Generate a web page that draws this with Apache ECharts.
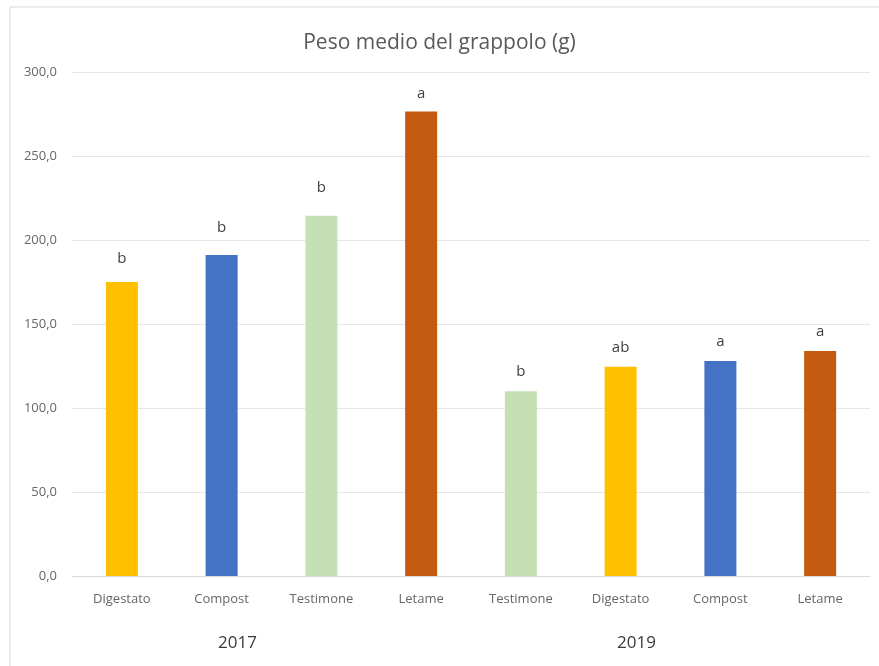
<!DOCTYPE html>
<html>
<head>
<meta charset="utf-8">
<script src="https://cdn.jsdelivr.net/npm/echarts@6/dist/echarts.min.js"></script>
<style>
  html, body { margin: 0; padding: 0; background: #ffffff; }
  #chart { width: 879px; height: 666px; }
</style>
</head>
<body>
<div id="chart"></div>
<script>
// Average bunch weight per treatment, two seasons
const categories = ['Digestato', 'Compost', 'Testimone', 'Letame', 'Testimone', 'Digestato', 'Compost', 'Letame'];
const weights = [175.0, 191.0, 214.5, 276.5, 110.0, 124.5, 128.0, 134.0];
const letters = ['b', 'b', 'b', 'a', 'b', 'ab', 'a', 'a'];
const years = ['2017', '2019'];
const yTicks = [0, 50, 100, 150, 200, 250, 300];

// Colour per treatment
const palette = {
  Digestato: '#FFC000',
  Compost: '#4472C4',
  Testimone: '#C5E0B4',
  Letame: '#C55A11'
};

// Gap between each bar and its significance letter (px)
const letterGap = [16, 20, 20, 10, 12, 12, 12, 12];

const FONT = '"Open Sans", "Noto Sans", sans-serif';

const chart = echarts.init(document.getElementById('chart'), null, { renderer: 'canvas' });

chart.setOption({
  animation: false,
  backgroundColor: '#ffffff',
  graphic: [{
    type: 'rect',
    shape: { x: 10, y: 7, width: 900, height: 700 },
    style: { fill: 'none', stroke: '#d9d9d9', lineWidth: 1 },
    silent: true
  }],
  title: {
    text: 'Peso medio del grappolo (g)',
    left: 'center',
    top: 28,
    textStyle: { fontFamily: FONT, fontSize: 21, fontWeight: 'normal', color: '#595959' }
  },
  grid: { left: 72, right: 9, top: 72, bottom: 90, containLabel: false },
  xAxis: [{
    type: 'category',
    data: categories,
    position: 'bottom',
    axisLine: { show: true, lineStyle: { color: '#d9d9d9', width: 1 } },
    axisTick: { show: false },
    axisLabel: { margin: 17, fontFamily: FONT, fontSize: 13, color: '#666666', interval: 0 }
  }, {
    type: 'category',
    data: years,
    position: 'bottom',
    gridIndex: 0,
    axisLine: { show: false },
    axisTick: { show: false },
    splitLine: { show: false },
    axisLabel: {
      margin: 59,
      fontFamily: FONT,
      fontSize: 17,
      color: '#3a3a3a',
      interval: 0,
      padding: [0, 68, 0, 0]
    }
  }],
  yAxis: {
    type: 'value',
    min: yTicks[0],
    max: yTicks[yTicks.length - 1],
    interval: yTicks[1] - yTicks[0],
    axisLine: { show: false },
    axisTick: { show: false },
    splitLine: { lineStyle: { color: '#e6e6e6', width: 1 } },
    axisLabel: {
      margin: 15,
      fontFamily: FONT,
      fontSize: 13,
      color: '#666666',
      formatter: v => v.toFixed(1).replace('.', ',')
    }
  },
  series: [{
    type: 'bar',
    xAxisIndex: 0,
    barWidth: 32,
    data: weights.map((v, i) => ({
      value: v,
      itemStyle: { color: palette[categories[i]] },
      label: { distance: letterGap[i] }
    })),
    label: {
      show: true,
      position: 'top',
      fontFamily: FONT,
      fontSize: 15,
      color: '#404040',
      formatter: p => letters[p.dataIndex]
    }
  }]
});
</script>
</body>
</html>
